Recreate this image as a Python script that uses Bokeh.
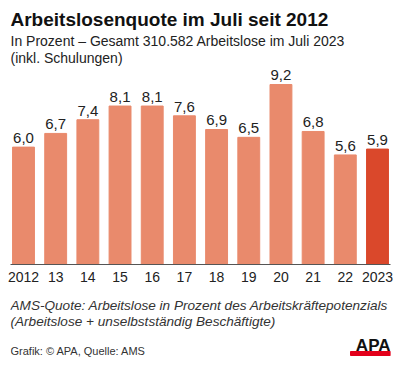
from bokeh.plotting import figure
from bokeh.models import ColumnDataSource, FixedTicker, Range1d
from bokeh.layouts import column
from bokeh.core.properties import value
from bokeh.embed import file_html
from bokeh.resources import INLINE

years = ["2012", "13", "14", "15", "16", "17", "18", "19", "20", "21", "22", "2023"]
rates = [6.0, 6.7, 7.4, 8.1, 8.1, 7.6, 6.9, 6.5, 9.2, 6.8, 5.6, 5.9]

title_text = "Arbeitslosenquote im Juli seit 2012"
subtitle_1 = "In Prozent \u2013 Gesamt 310.582 Arbeitslose im Juli 2023"
subtitle_2 = "(inkl. Schulungen)"
note_1 = "AMS-Quote: Arbeitslose in Prozent des Arbeitskr\u00e4ftepotenzials"
note_2 = "(Arbeitslose + unselbstst\u00e4ndig Besch\u00e4ftigte)"
source_text = "Grafik: \u00a9 APA, Quelle: AMS"

BASE = "#E98A6C"
HIGHLIGHT = "#DA482B"
FONT = "Liberation Sans"
W = 400
MID = 0.3465  # middle-to-baseline distance in em


def text_panel(height):
    f = figure(width=W, height=height, output_backend="svg", toolbar_location=None,
               x_range=Range1d(10, W - 10), y_range=Range1d(height, 0),
               x_axis_location=None, y_axis_location=None,
               min_border_left=10, min_border_right=10,
               min_border_top=0, min_border_bottom=0)
    f.outline_line_color = None
    f.xgrid.grid_line_color = None
    f.ygrid.grid_line_color = None
    return f


def put(f, text, x, baseline, size, style="normal", color="#222222", align="left"):
    f.text(x=[x], y=[baseline - MID * size], text=[text], text_font=value(FONT),
           text_font_size=f"{size}px", text_font_style=style, text_color=color,
           text_align=align, text_baseline="middle")


# header
head = text_panel(67)
put(head, title_text, 10, 26, 19, "bold", "#111111")
put(head, subtitle_1, 10, 45.5, 14)
put(head, subtitle_2, 10, 62, 14)

# chart
idx = list(range(len(years)))
colors = [HIGHLIGHT if i == len(years) - 1 else BASE for i in idx]
labels = [f"{v:.1f}".replace(".", ",") for v in rates]
src = ColumnDataSource(dict(x=idx, top=rates, color=colors, label=labels))

p = figure(width=W, height=223, output_backend="svg", toolbar_location=None,
           x_range=Range1d(-0.404, 11.404), y_range=Range1d(0, 10.07),
           y_axis_location=None, min_border_left=10, min_border_right=10,
           min_border_top=0, min_border_bottom=26)
p.outline_line_color = None
p.xgrid.grid_line_color = None
p.ygrid.grid_line_color = None

p.vbar(x="x", top="top", bottom=0, width=0.68, color="color", source=src)
p.text(x="x", y="top", text="label", source=src, text_align="center",
       text_baseline="middle", y_offset=-(4 + MID * 15), text_font=value(FONT),
       text_font_size="15px", text_color="#222222")

ax = p.xaxis[0]
ax.ticker = FixedTicker(ticks=idx)
ax.major_label_overrides = {i: y for i, y in zip(idx, years)}
ax.major_tick_out = 0
ax.major_tick_in = 0
ax.minor_tick_out = 0
ax.minor_tick_in = 0
ax.axis_line_color = "#555555"
ax.axis_line_width = 1
ax.major_label_standoff = 7
ax.major_label_text_font = FONT
ax.major_label_text_font_size = "14px"
ax.major_label_text_color = "#222222"

# footer
foot = text_panel(76)
put(foot, note_1, 10, 20, 13.6, "italic", "#333333")
put(foot, note_2, 10, 36, 13.6, "italic", "#333333")
put(foot, source_text, 10, 64, 11, "normal", "#333333")
put(foot, "APA", 390, 61, 17, "bold", "#111111", "right")
foot.quad(left=[350], right=[390], top=[61], bottom=[65], color="#E3001B")

layout = column(head, p, foot, spacing=0)
open("out.html", "w").write(file_html(layout, INLINE))
